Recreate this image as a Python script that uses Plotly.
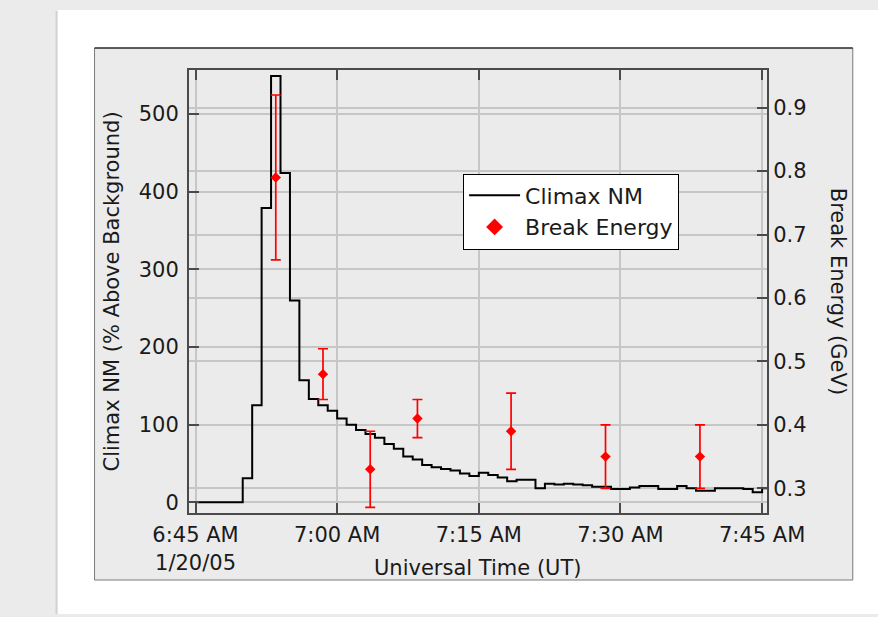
import plotly.graph_objects as go
import pandas as pd

# ---------------- data ----------------
climax_start = "2005-01-20 06:45:00"
climax_values = [0, 0, 0, 0, 0, 31, 125, 379, 549, 424, 260, 157, 133, 125, 118,
                 108, 100, 93, 88, 83, 75, 69, 59, 55, 48, 45, 43, 41, 37, 34,
                 38, 35, 32, 27, 29, 29, 18, 24, 23, 24, 23, 22, 20, 20, 17,
                 17, 19, 21, 21, 17, 17, 21, 18, 15, 15, 18, 18, 18, 17, 13, 18]

break_times = ["2005-01-20 06:53:30", "2005-01-20 06:58:30", "2005-01-20 07:03:30",
               "2005-01-20 07:08:30", "2005-01-20 07:18:25", "2005-01-20 07:28:25",
               "2005-01-20 07:38:25"]
break_energy = [0.79, 0.48, 0.33, 0.41, 0.39, 0.35, 0.35]
break_error = [0.13, 0.04, 0.06, 0.03, 0.06, 0.05, 0.05]

x_tick_times = ["2005-01-20 06:45", "2005-01-20 07:00", "2005-01-20 07:15",
                "2005-01-20 07:30", "2005-01-20 07:45"]
x_tick_labels = ["6:45 AM<br>1/20/05", "7:00 AM", "7:15 AM", "7:30 AM", "7:45 AM"]
left_ticks = [0, 100, 200, 300, 400, 500]
right_ticks = [0.3, 0.4, 0.5, 0.6, 0.7, 0.8, 0.9]

x_title = "Universal Time (UT)"
y_title = "Climax NM (% Above Background)"
y2_title = "Break Energy (GeV)"

# ---------------- layout geometry (pixels) ----------------
W, H = 878, 617
PL, PR, PT, PB = 188.5, 766.7, 70, 513   # plot area edges


def px(x):
    return (x - PL) / (PR - PL)


def py(y):
    return (PB - y) / (PB - PT)


FONT = "DejaVu Sans"
TXT = "#1a1a1a"
GRID = "#c6c6c6"
AX = "#4a4a4a"

edges = pd.date_range(climax_start, periods=len(climax_values) + 1, freq="min")
step_y = climax_values + [climax_values[-1]]

fig = go.Figure()

fig.add_trace(go.Scatter(
    x=edges, y=step_y, mode="lines", line=dict(color="black", width=2, shape="hv"),
    name="Climax NM", yaxis="y", showlegend=True,
))

fig.add_trace(go.Scatter(
    x=break_times, y=break_energy, mode="markers", yaxis="y2",
    marker=dict(symbol="diamond", size=8, color="#ff0000"),
    error_y=dict(type="data", array=break_error, color="#ff0000", thickness=1.7, width=5),
    name="Break Energy", showlegend=False,
))
# legend entry with larger symbol
fig.add_trace(go.Scatter(
    x=[None], y=[None], mode="markers", yaxis="y2",
    marker=dict(symbol="diamond", size=13, color="#ff0000"),
    name="Break Energy", showlegend=True,
))

shapes = [
    # white card
    dict(type="rect", xref="paper", yref="paper", layer="below",
         x0=px(57), x1=px(W + 5), y0=py(614), y1=py(10),
         fillcolor="white", line=dict(width=0)),
    dict(type="line", xref="paper", yref="paper", layer="below",
         x0=px(56), x1=px(56), y0=py(614), y1=py(11),
         line=dict(color="#d2d2d2", width=2)),
    # gray panel
    dict(type="rect", xref="paper", yref="paper", layer="below",
         x0=px(94), x1=px(852.5), y0=py(580), y1=py(48),
         fillcolor="#ebebeb", line=dict(color="#7a7a7a", width=1)),
    dict(type="line", xref="paper", yref="paper", layer="below",
         x0=px(94), x1=px(852.5), y0=py(48), y1=py(48),
         line=dict(color="black", width=1.2)),
]

annotations = [
    dict(text=x_title, xref="paper", yref="paper", x=px(476.7), y=py(568),
         xanchor="center", yanchor="middle", showarrow=False,
         font=dict(family=FONT, size=21, color=TXT)),
    dict(text=y_title, xref="paper", yref="paper", x=px(111), y=py(292),
         xanchor="center", yanchor="middle", showarrow=False, textangle=-90,
         font=dict(family=FONT, size=21, color=TXT)),
    dict(text=y2_title, xref="paper", yref="paper", x=px(838), y=py(291),
         xanchor="center", yanchor="middle", showarrow=False, textangle=90,
         font=dict(family=FONT, size=21, color=TXT)),
]

fig.update_layout(
    width=W, height=H,
    margin=dict(l=PL, r=W - PR, t=PT, b=H - PB, pad=0),
    paper_bgcolor="#ebebeb",
    plot_bgcolor="rgba(0,0,0,0)",
    font=dict(family=FONT, size=21, color=TXT),
    shapes=shapes,
    annotations=annotations,
    xaxis=dict(
        type="date",
        range=["2005-01-20 06:44:18.6", "2005-01-20 07:45:31"],
        tickmode="array", tickvals=x_tick_times, ticktext=x_tick_labels,
        ticks="inside", ticklen=10, tickwidth=1.5, tickcolor=AX,
        showline=True, linecolor=AX, linewidth=2, mirror="ticks",
        showgrid=True, gridcolor=GRID, gridwidth=1.5, zeroline=False,
        tickfont=dict(family=FONT, size=21, color=TXT),
        ticklabelstandoff=2,
    ),
    yaxis=dict(
        range=[-13.8, 556.7],
        tickmode="array", tickvals=left_ticks,
        ticks="inside", ticklen=10, tickwidth=1.5, tickcolor=AX,
        showline=True, linecolor=AX, linewidth=2,
        showgrid=True, gridcolor=GRID, gridwidth=1.5, zeroline=False,
        tickfont=dict(family=FONT, size=21, color=TXT),
        ticklabelstandoff=4,
    ),
    yaxis2=dict(
        range=[0.2611, 0.9594], overlaying="y", side="right",
        tickmode="array", tickvals=right_ticks, tickformat=".1f",
        ticks="inside", ticklen=10, tickwidth=1.5, tickcolor=AX,
        showline=True, linecolor=AX, linewidth=2,
        showgrid=True, gridcolor=GRID, gridwidth=1.5, zeroline=False,
        tickfont=dict(family=FONT, size=21, color=TXT),
        ticklabelstandoff=0,
    ),
    legend=dict(
        x=px(462.7), y=py(173.5), xanchor="left", yanchor="top",
        bgcolor="white", bordercolor="black", borderwidth=1,
        font=dict(family=FONT, size=22, color=TXT),
        itemwidth=51,
    ),
    showlegend=True,
)

fig.write_html(
    "out.html",
    config={"displayModeBar": False},
    post_script="document.body.style.margin='0';document.body.style.background='#ebebeb';",
)
